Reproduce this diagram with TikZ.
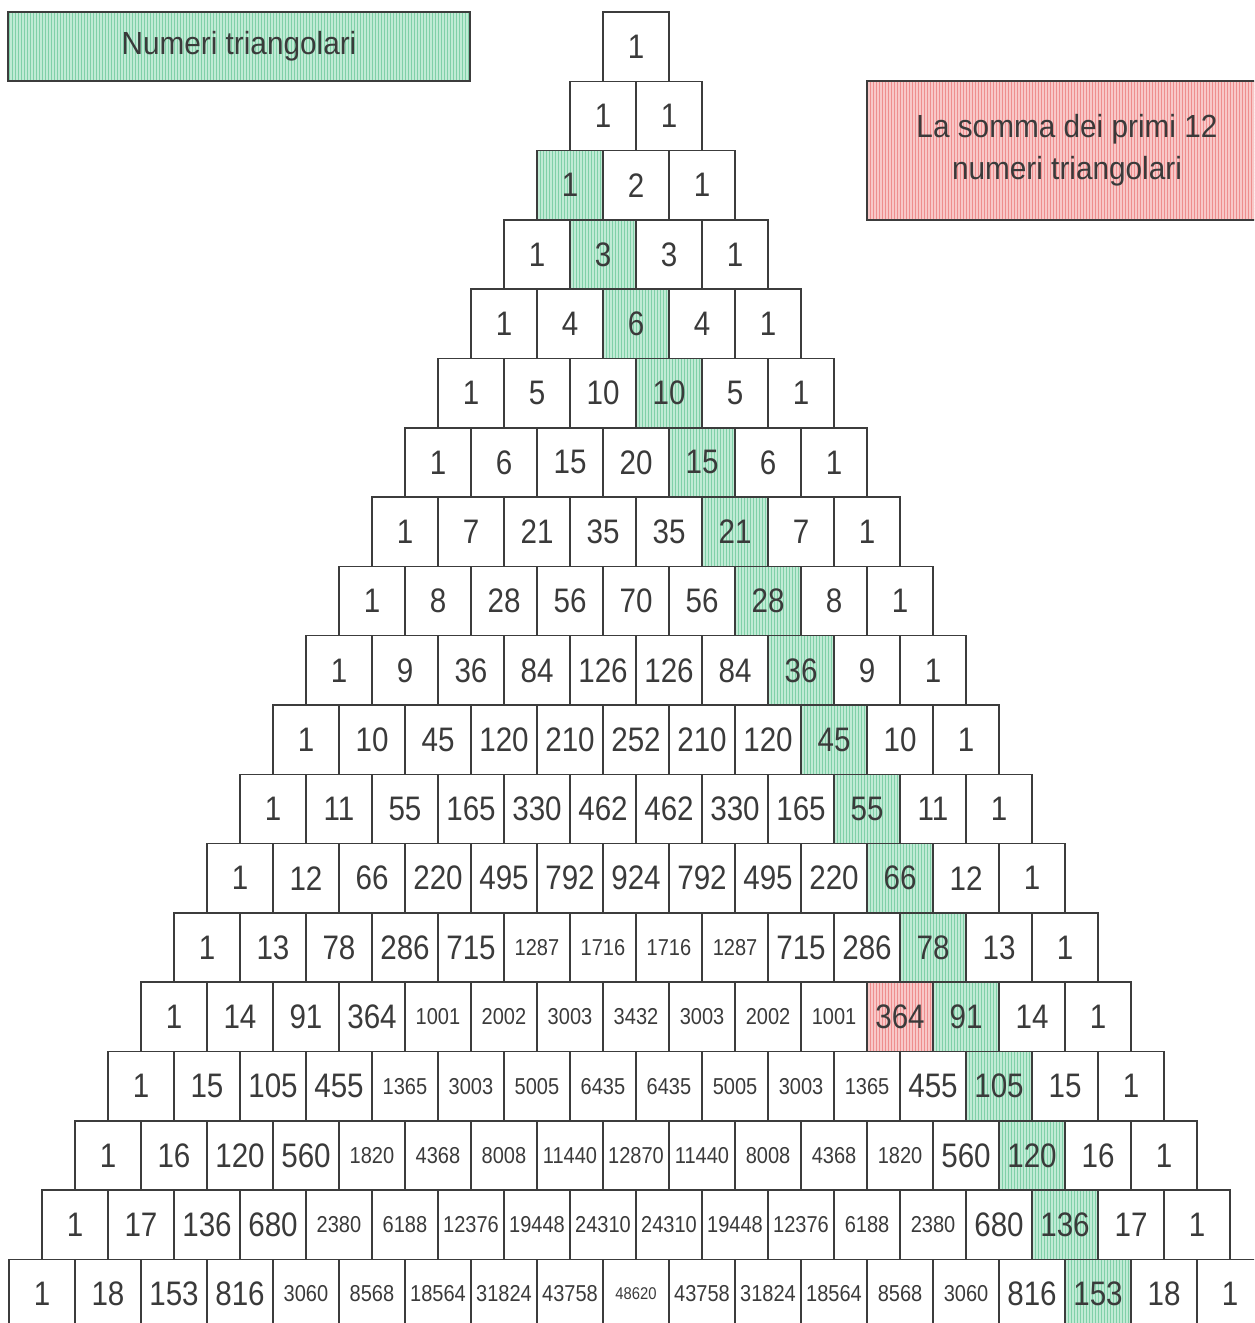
\documentclass[tikz,border=0pt]{standalone}
\usepackage{fontspec}
\setmainfont[FakeStretch=0.87]{Liberation Sans}
\newfontfamily\keyfont[FakeStretch=0.93]{Liberation Sans}
\usetikzlibrary{patterns.meta}
\definecolor{ink}{HTML}{3A3A3A}
\definecolor{edge}{HTML}{3C3C3C}
\definecolor{trilight}{HTML}{C0EBD5}
\definecolor{tridark}{HTML}{80D0A8}
\definecolor{sumlight}{HTML}{F8C8C8}
\definecolor{sumdark}{HTML}{EE8E8E}

\begin{document}
\begin{tikzpicture}[x=0.5pt, y=-0.5pt,
    every node/.style={text=ink},
    cell/.style={rectangle, draw=edge, line width=0.75pt, inner sep=0pt,
                 minimum width=33pt, minimum height=34.65pt},
    numbig/.style={font=\fontsize{17}{20}\selectfont},
    numsmall/.style={font=\fontsize{11.5}{14}\selectfont},
    numtiny/.style={font=\fontsize{8.5}{10}\selectfont},
    plain/.style={},
    tricell/.style={preaction={fill=trilight},
                    pattern={Lines[angle=90, distance=1.5pt, line width=0.5pt]},
                    pattern color=tridark},
    sumcell/.style={preaction={fill=sumlight},
                    pattern={Lines[angle=90, distance=1.5pt, line width=0.5pt]},
                    pattern color=sumdark},
    legend/.style={rectangle, draw=edge, line width=0.75pt, align=center,
                   font=\keyfont\fontsize{16}{20.8}\selectfont},
]
\useasboundingbox (0,0) rectangle (1254,1323);
\clip (0,0) rectangle (1254,1323);

% the triangle, row by row
\foreach \n in {0,...,18}{
    \xdef\val{1}
    \foreach \k in {0,...,\n}{
        \ifnum\val<1000 \def\sz{numbig}\else
            \ifnum\val=48620 \def\sz{numtiny}\else\def\sz{numsmall}\fi\fi
        \def\hl{plain}
        \ifnum\k=\numexpr\n-2\relax \def\hl{tricell}\fi
        \ifnum\n=14 \ifnum\k=11 \def\hl{sumcell}\fi\fi
        \node[cell, \sz, \hl] (c-\n-\k) at ({636 - 33*\n + 66*\k}, {46.6 + 69.3*\n}) {\val};
        \xdef\val{\the\numexpr \val*(\n-\k)/(\k+1)\relax}
    }
}

% the two keys
\node[legend, tricell, minimum width=231pt, minimum height=34.5pt]
    (tri-key) at (239, 46.5) {\raisebox{-1pt}{Numeri triangolari}};
\node[legend, sumcell, minimum width=200pt, minimum height=69.5pt]
    (sum-key) at (1067, 150.5) {La somma dei primi 12\\numeri triangolari};
\end{tikzpicture}
\end{document}
